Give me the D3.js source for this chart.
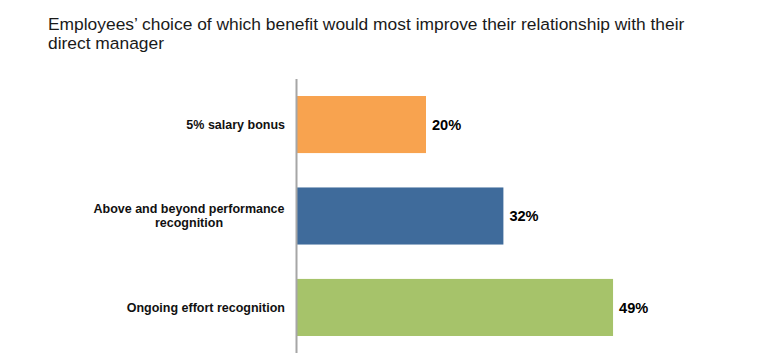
<!DOCTYPE html>
<html>
<head>
<meta charset="utf-8">
<script src="https://cdn.jsdelivr.net/npm/d3@7"></script>
<style>
  html, body { margin: 0; padding: 0; background: #fff; }
  svg { display: block; }
</style>
</head>
<body>
<script>
const titleLines = ["Employees\u2019 choice of which benefit would most improve their relationship with their", "direct manager"];
const categories = ["5% salary bonus", "Above and beyond performance recognition", "Ongoing effort recognition"];
const categoryLines = [["5% salary bonus"], ["Above and beyond performance", "recognition"], ["Ongoing effort recognition"]];
const values = [20, 32, 49];
const colors = ["#F8A34F", "#3F6B9B", "#A6C36A"];

const W = 758, H = 363;
const svg = d3.select("body").append("svg").attr("width", W).attr("height", H);

const title = svg.append("text")
  .attr("font-family", "Liberation Sans, Arial, sans-serif")
  .attr("font-size", 17.4)
  .attr("fill", "#1a1a1a");
titleLines.forEach((t, i) => {
  title.append("tspan").attr("x", 48).attr("y", 30 + i * 18.5).text(t);
});

const x0 = 297;
const x = d3.scaleLinear().domain([0, 10]).range([x0, x0 + 64.5]);
const y = d3.scaleBand().domain(categories).range([79, 353]).paddingInner(0.376).paddingOuter(0.186);

svg.selectAll("rect.bar").data(values).enter().append("rect")
  .attr("class", "bar")
  .attr("x", x(0))
  .attr("y", (d, i) => y(categories[i]))
  .attr("width", d => x(d) - x(0))
  .attr("height", y.bandwidth())
  .attr("fill", (d, i) => colors[i]);

// axis line
svg.append("line")
  .attr("x1", x(0) - 0.5).attr("x2", x(0) - 0.5)
  .attr("y1", 79).attr("y2", 353)
  .attr("stroke", "#a6a6a6").attr("stroke-width", 2);

// value labels
svg.selectAll("text.val").data(values).enter().append("text")
  .attr("class", "val")
  .attr("x", d => x(d) + 6)
  .attr("y", (d, i) => y(categories[i]) + y.bandwidth() / 2)
  .attr("dy", "0.35em")
  .attr("font-family", "Liberation Sans, Arial, sans-serif")
  .attr("font-weight", "bold")
  .attr("font-size", 14.6)
  .attr("fill", "#000")
  .text(d => d + "%");

// category labels
categories.forEach((c, i) => {
  const lines = categoryLines[i];
  const cy = y(c) + y.bandwidth() / 2;
  const lh = 14;
  const t = svg.append("text")
    .attr("font-family", "Liberation Sans, Arial, sans-serif")
    .attr("font-weight", "bold")
    .attr("font-size", 12.5)
    .attr("fill", "#111")
    .attr("text-anchor", lines.length > 1 ? "middle" : "end");
  lines.forEach((l, j) => {
    const yy = cy + (j - (lines.length - 1) / 2) * lh;
    t.append("tspan")
      .attr("x", lines.length > 1 ? 189 : 285)
      .attr("y", yy)
      .attr("dy", "0.35em")
      .text(l);
  });
});
</script>
</body>
</html>
